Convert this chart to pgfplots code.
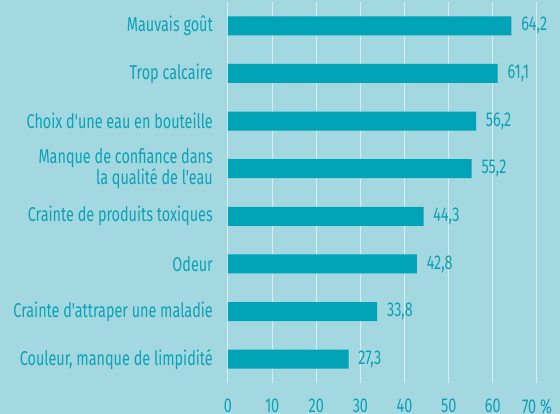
\documentclass[border=0pt]{standalone}
\usepackage{pgfplots}
\pgfplotsset{compat=1.18}
\usepackage{fontspec}
\setmainfont{Fira Sans}[FakeStretch=0.72, Ligatures=TeXOff]
\definecolor{bg}{HTML}{A3D8E1}
\definecolor{bar}{HTML}{00A4B6}
\definecolor{txt}{HTML}{0AA2B4}
\definecolor{gridc}{HTML}{D2EEF2}
\newcommand\lf{\fontsize{20}{21}\selectfont}
\begin{document}
\lf
\begin{tikzpicture}
\path[use as bounding box, fill=bg] (-228pt,-31pt) rectangle (332pt,383pt);
\begin{axis}[
  at={(0,0)}, anchor=south west,
  scale only axis, width=309pt, height=381pt,
  xmin=0, xmax=70, ymin=-0.5, ymax=7.5,
  axis line style={draw=none},
  xbar, bar width=19pt,
  xtick={0,10,...,70},
  xticklabels={0,10,20,30,40,50,60,70 \%},
  xmajorgrids, grid style={gridc, line width=1pt},
  ytick={0,...,7},
  yticklabels={{Couleur, manque de limpidité}, Crainte d'attraper une maladie, Odeur, Crainte de produits toxiques, {Manque de confiance dans\\la qualité de l'eau}, Choix d'une eau en bouteille, Trop calcaire, Mauvais goût},
  yticklabel style={align=right, text=txt, font=\lf, inner sep=0pt, xshift=-15pt},
  xticklabel style={text=txt, font=\lf, inner sep=0pt, yshift=-16pt},
  major tick length=0pt,
  /pgf/number format/assume math mode=true,
  nodes near coords,
  nodes near coords style={text=txt, font=\lf, anchor=west, xshift=3pt,
    /pgf/number format/.cd, fixed, fixed zerofill, precision=1, use comma, assume math mode=true},
  clip=false,
]
\addplot[fill=bar, draw=none] coordinates {
(27.3,0) (33.8,1) (42.8,2) (44.3,3) (55.2,4) (56.2,5) (61.1,6) (64.2,7)};
\end{axis}
\end{tikzpicture}
\end{document}
